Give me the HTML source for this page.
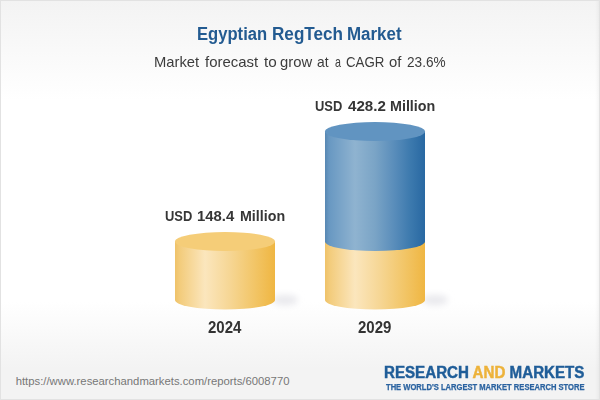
<!DOCTYPE html>
<html>
<head>
<meta charset="utf-8">
<style>
html,body{margin:0;padding:0;}
body{width:600px;height:400px;overflow:hidden;position:relative;font-family:"Liberation Sans",sans-serif;
background:linear-gradient(to bottom,#f3f3f3 0px,#ffffff 100px,#ffffff 302px,#f3f3f3 368px,#f3f3f3 400px);}
#frame{position:absolute;left:0;top:0;width:598px;height:398px;border:1px solid #e2e2e2;}
.t{position:absolute;white-space:nowrap;line-height:1;transform-origin:0 0;}
#title{left:0;top:25.1px;width:600px;height:18px;font-size:18px;font-weight:bold;color:#235b91;}
#title span{position:absolute;top:0;transform-origin:0 0;}
#sub{left:0;top:54px;width:600px;height:15px;font-size:15px;color:#3c3c3c;}
#sub span{position:absolute;top:0;transform-origin:0 0;}
.val{font-size:15px;font-weight:bold;color:#363636;width:600px;height:15px;}
.val span{position:absolute;top:0;transform-origin:0 0;}
.yr{font-size:15.8px;font-weight:bold;color:#333;transform:scaleX(0.95);}
#url{left:15.7px;top:376.2px;font-size:11.3px;color:#777;}
#logo1{left:384.4px;top:364.7px;font-size:15.6px;font-weight:bold;color:#1f5d98;-webkit-text-stroke:0.45px #1f5d98;transform:scaleX(0.9706);}
#logo1 span{color:#edb23a;-webkit-text-stroke:0.45px #edb23a;}
#logo2{left:385.8px;top:382.9px;font-size:8.4px;font-weight:bold;color:#2b63a0;-webkit-text-stroke:0.25px #2b63a0;transform:scaleX(0.906);}
svg{position:absolute;left:0;top:0;}
</style>
</head>
<body>
<div id="frame"></div>
<div style="position:absolute;left:595px;top:1px;width:4px;height:398px;background:linear-gradient(to right,rgba(0,0,0,0),rgba(0,0,0,0.035));"></div>
<svg width="600" height="400" viewBox="0 0 600 400">
<defs>
<linearGradient id="gy" x1="0" x2="1" y1="0" y2="0">
<stop offset="0" stop-color="#efc268"/>
<stop offset="0.05" stop-color="#f3cc7c"/>
<stop offset="0.3" stop-color="#fbe6bd"/>
<stop offset="0.55" stop-color="#f6d694"/>
<stop offset="0.8" stop-color="#f2c566"/>
<stop offset="1" stop-color="#efb642"/>
</linearGradient>
<linearGradient id="gb" x1="0" x2="1" y1="0" y2="0">
<stop offset="0" stop-color="#5787b2"/>
<stop offset="0.04" stop-color="#6898c2"/>
<stop offset="0.3" stop-color="#8fb3d0"/>
<stop offset="0.5" stop-color="#7aa4c6"/>
<stop offset="0.7" stop-color="#588cba"/>
<stop offset="0.85" stop-color="#3d7aae"/>
<stop offset="1" stop-color="#2868a2"/>
</linearGradient>
<filter id="blur" x="-50%" y="-50%" width="200%" height="200%"><feGaussianBlur stdDeviation="3"/></filter>
</defs>
<!-- shadows -->
<ellipse cx="285" cy="300" rx="13" ry="5.5" fill="#eaeaee" filter="url(#blur)"/>
<ellipse cx="435" cy="300" rx="13" ry="5.5" fill="#eaeaee" filter="url(#blur)"/>
<!-- cylinder 1 -->
<path d="M175 241.5 L175 300 A50 9.5 0 0 0 275 300 L275 241.5 Z" fill="url(#gy)"/>
<ellipse cx="225" cy="241.5" rx="50" ry="9.5" fill="#f5cd78"/>
<!-- cylinder 2 -->
<path d="M325 241.5 L325 300 A50 9.5 0 0 0 425 300 L425 241.5 Z" fill="url(#gy)"/>
<path d="M325 131.5 L325 241.5 A50 9.5 0 0 0 425 241.5 L425 131.5 Z" fill="url(#gb)"/>
<ellipse cx="375" cy="131.5" rx="50" ry="9.5" fill="#6194c1"/>
</svg>
<div class="t" id="title"><span style="left:196.7px;transform:scaleX(0.923)">Egyptian</span><span style="left:271.5px;transform:scaleX(0.951)">RegTech</span><span style="left:347.3px;transform:scaleX(0.940)">Market</span></div>
<div class="t" id="sub"><span style="left:153.7px;transform:scaleX(0.985)">Market</span><span style="left:205.0px;transform:scaleX(0.997)">forecast</span><span style="left:263.8px;transform:scaleX(1.019)">to</span><span style="left:280.4px;transform:scaleX(0.988)">grow</span><span style="left:317.2px;transform:scaleX(0.922)">at</span><span style="left:334.8px;transform:scaleX(0.711)">a</span><span style="left:346.0px;transform:scaleX(0.885)">CAGR</span><span style="left:389.1px;transform:scaleX(0.989)">of</span><span style="left:406.7px;transform:scaleX(0.908)">23.6%</span></div>
<div class="t val" style="left:0;top:207.6px;"><span style="left:165.3px;transform:scaleX(0.861)">USD</span><span style="left:197.3px;transform:scaleX(0.992)">148.4</span><span style="left:239.9px;transform:scaleX(0.950)">Million</span></div>
<div class="t val" style="left:0;top:97.8px;"><span style="left:315.3px;transform:scaleX(0.861)">USD</span><span style="left:347.5px;transform:scaleX(1.008)">428.2</span><span style="left:389.6px;transform:scaleX(0.954)">Million</span></div>
<div class="t yr" style="left:208.2px;top:320.4px;">2024</div>
<div class="t yr" style="left:358.2px;top:320.4px;">2029</div>
<div class="t" id="url">https://www.researchandmarkets.com/reports/6008770</div>
<div class="t" id="logo1">RESEARCH <span>AND</span> MARKETS</div>
<div class="t" id="logo2">THE WORLD'S LARGEST MARKET RESEARCH STORE</div>
</body>
</html>
